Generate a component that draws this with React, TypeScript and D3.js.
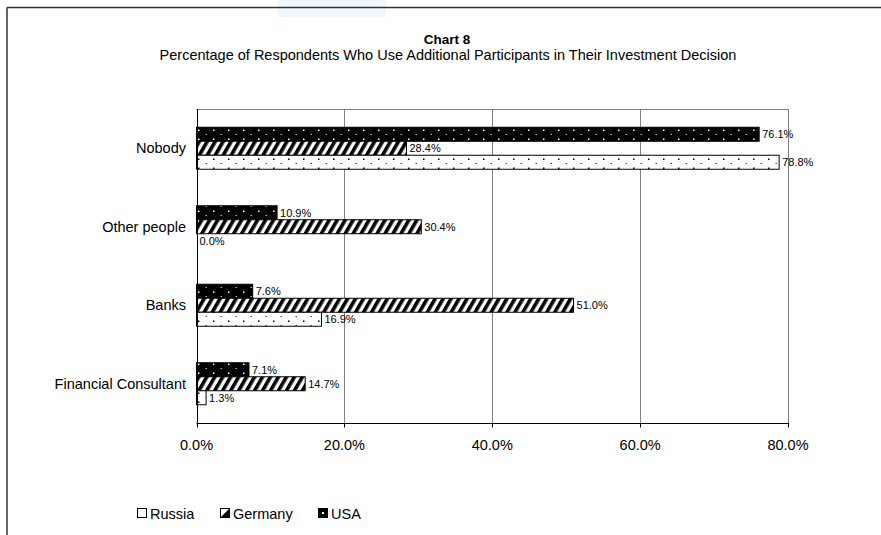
import React from "react";
import * as d3 from "d3";

const categories = ["Nobody", "Other people", "Banks", "Financial Consultant"];
const seriesNames = ["USA", "Germany", "Russia"];
const usaValues = [76.1, 10.9, 7.6, 7.1];
const germanyValues = [28.4, 30.4, 51.0, 14.7];
const russiaValues = [78.8, 0.0, 16.9, 1.3];
const xTicks = [0, 20, 40, 60, 80];
const legendNames = ["Russia", "Germany", "USA"];

const W = 881;
const H = 535;
const FONT = "'Liberation Sans', Arial, Helvetica, sans-serif";

export default function App() {
  const x = d3.scaleLinear().domain([0, 80]).range([196.5, 788]);
  const y = d3.scaleBand<string>().domain(categories).range([109, 423]).paddingInner(0.465).paddingOuter(0.2325);
  const ys = d3.scaleBand<string>().domain(seriesNames).range([0, y.bandwidth()]);
  const valuesBySeries: Record<string, number[]> = {
    USA: usaValues,
    Germany: germanyValues,
    Russia: russiaValues,
  };
  const fills: Record<string, string> = {
    USA: "url(#pUSA)",
    Germany: "url(#pGER)",
    Russia: "url(#pRUS)",
  };
  const [y0, y1] = [109, 423];
  const legendX: Record<string, number> = { Russia: 137, Germany: 220, USA: 318 };

  return (
    <svg width={W} height={H} style={{ position: "absolute", left: 0, top: 0, background: "#fff" }}>
      <defs>
        <pattern id="pUSA" patternUnits="userSpaceOnUse" width={15} height={9}>
          <rect width={15} height={9} fill="#000" />
          <rect x={3} y={3.5} width={1.5} height={1.5} fill="#fff" />
          <rect x={10.5} y={8} width={1.5} height={1} fill="#bbb" />
        </pattern>
        <pattern id="pRUS" patternUnits="userSpaceOnUse" width={15} height={9} y={2}>
          <rect width={15} height={9} fill="#fff" />
          <rect x={3} y={3.5} width={1.5} height={1.5} fill="#000" />
          <rect x={10.5} y={8} width={1.5} height={1} fill="#444" />
        </pattern>
        <pattern id="pGER" patternUnits="userSpaceOnUse" width={6.9} height={10} patternTransform="rotate(30)">
          <rect width={6.9} height={10} fill="#fff" />
          <rect width={3.6} height={10} fill="#000" />
        </pattern>
      </defs>

      <rect x={278} y={0} width={108} height={17} fill="#f1f7fe" />

      <line x1={7} y1={7.5} x2={W} y2={7.5} stroke="#333" strokeWidth={1.5} />
      <line x1={7} y1={7.5} x2={7} y2={H} stroke="#333" strokeWidth={1.5} />

      <text x={447} y={44} textAnchor="middle" fontFamily={FONT} fontWeight="bold" fontSize={13.5}>
        Chart 8
      </text>
      <text x={448} y={60} textAnchor="middle" fontFamily={FONT} fontSize={14.5}>
        Percentage of Respondents Who Use Additional Participants in Their Investment Decision
      </text>

      <line x1={x(0)} x2={x(80)} y1={y0 + 0.5} y2={y0 + 0.5} stroke="#808080" />
      {xTicks.slice(1).map((t) => (
        <line key={t} x1={Math.round(x(t)) + 0.5} x2={Math.round(x(t)) + 0.5} y1={y0} y2={y1} stroke="#808080" />
      ))}

      {categories.map((c, ci) =>
        seriesNames.map((s) => {
          const v = valuesBySeries[s][ci];
          const by = (y(c) ?? 0) + (ys(s) ?? 0);
          const bh = ys.bandwidth();
          return (
            <g key={c + s}>
              <rect
                x={x(0)}
                y={by}
                width={Math.max(0, x(v) - x(0))}
                height={bh}
                fill={fills[s]}
                stroke="#000"
                strokeWidth={1}
              />
              <text x={x(v) + 3} y={by + bh / 2 + 4} fontFamily={FONT} fontSize={11} fill="#000">
                {v.toFixed(1) + "%"}
              </text>
            </g>
          );
        })
      )}

      <line x1={Math.round(x(0)) + 0.5} x2={Math.round(x(0)) + 0.5} y1={y0} y2={y1 + 0.5} stroke="#000" />
      <line x1={x(0)} x2={x(80) + 0.5} y1={y1 + 0.5} y2={y1 + 0.5} stroke="#000" />
      {xTicks.map((t) => (
        <g key={t}>
          <line x1={Math.round(x(t)) + 0.5} x2={Math.round(x(t)) + 0.5} y1={y1} y2={y1 + 4.5} stroke="#000" />
          <text x={x(t)} y={449.5} textAnchor="middle" fontFamily={FONT} fontSize={14.5}>
            {t.toFixed(1) + "%"}
          </text>
        </g>
      ))}

      {categories.map((c) => (
        <text key={c} x={186} y={(y(c) ?? 0) + y.bandwidth() / 2 + 5} textAnchor="end" fontFamily={FONT} fontSize={14.5}>
          {c}
        </text>
      ))}

      {legendNames.map((s) => (
        <g key={s}>
          <rect x={legendX[s] + 0.5} y={508.5} width={9} height={9} fill={s === "Russia" ? "#fff" : s === "USA" ? "#000" : "#fff"} stroke="#000" />
          {s === "Germany" && <path d={`M${legendX[s] + 0.5},${517.5} L${legendX[s] + 9.5},${508.5} L${legendX[s] + 9.5},${517.5} Z`} fill="#000" />}
          {s === "USA" && <rect x={legendX[s] + 4} y={512} width={2} height={2} fill="#fff" />}
          <text x={legendX[s] + 13} y={518.5} fontFamily={FONT} fontSize={14.5}>
            {s}
          </text>
        </g>
      ))}
    </svg>
  );
}
